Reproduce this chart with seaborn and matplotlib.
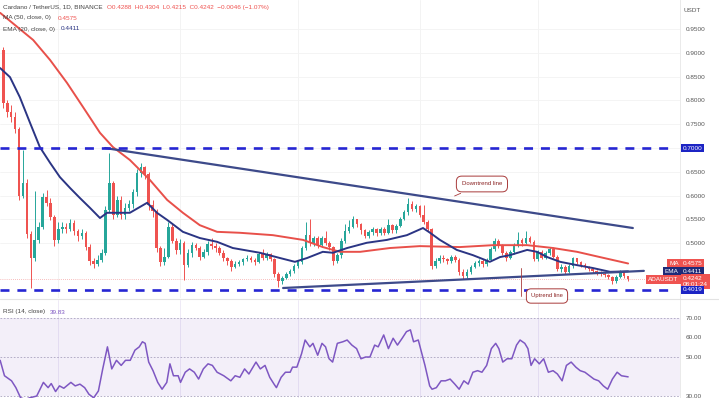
import numpy as np
import pandas as pd
import matplotlib
matplotlib.use("Agg")
from matplotlib import pyplot as plt
from matplotlib import transforms
from matplotlib.lines import Line2D
import seaborn as sns

# daily candles (open = previous close)
first_open = 0.905
closes = [0.795, 0.775, 0.765, 0.740, 0.600, 0.627, 0.520, 0.470, 0.507, 0.535,
          0.597, 0.585, 0.555, 0.507, 0.530, 0.535, 0.530, 0.542, 0.525, 0.515,
          0.522, 0.492, 0.462, 0.456, 0.465, 0.480, 0.570, 0.627, 0.560, 0.590,
          0.560, 0.575, 0.582, 0.608, 0.648, 0.660, 0.645, 0.580, 0.567, 0.490,
          0.460, 0.472, 0.535, 0.505, 0.485, 0.500, 0.455, 0.480, 0.497, 0.490,
          0.472, 0.482, 0.498, 0.494, 0.489, 0.480, 0.468, 0.462, 0.450, 0.457,
          0.460, 0.466, 0.470, 0.465, 0.460, 0.478, 0.470, 0.478, 0.466, 0.435,
          0.420, 0.428, 0.436, 0.442, 0.452, 0.460, 0.490, 0.518, 0.500, 0.510,
          0.496, 0.510, 0.500, 0.492, 0.462, 0.476, 0.505, 0.525, 0.535, 0.550,
          0.540, 0.527, 0.516, 0.524, 0.530, 0.521, 0.530, 0.522, 0.538, 0.527,
          0.537, 0.552, 0.565, 0.583, 0.572, 0.578, 0.560, 0.545, 0.530, 0.452,
          0.463, 0.470, 0.466, 0.462, 0.472, 0.465, 0.440, 0.432, 0.440, 0.450,
          0.458, 0.462, 0.456, 0.465, 0.488, 0.505, 0.495, 0.480, 0.468, 0.482,
          0.496, 0.506, 0.500, 0.510, 0.503, 0.466, 0.482, 0.470, 0.480, 0.488,
          0.472, 0.446, 0.451, 0.440, 0.452, 0.468, 0.460, 0.455, 0.450, 0.445,
          0.441, 0.438, 0.436, 0.433, 0.430, 0.420, 0.430, 0.440, 0.432, 0.4242]
highs = [0.912, 0.800, 0.790, 0.775, 0.745, 0.695, 0.635, 0.525, 0.610, 0.545,
         0.605, 0.612, 0.595, 0.560, 0.545, 0.545, 0.542, 0.550, 0.548, 0.530,
         0.530, 0.525, 0.498, 0.470, 0.475, 0.488, 0.578, 0.690, 0.630, 0.600,
         0.600, 0.585, 0.590, 0.615, 0.655, 0.668, 0.662, 0.650, 0.590, 0.572,
         0.495, 0.490, 0.545, 0.540, 0.510, 0.508, 0.505, 0.488, 0.502, 0.500,
         0.495, 0.488, 0.505, 0.510, 0.500, 0.494, 0.485, 0.472, 0.466, 0.462,
         0.465, 0.470, 0.475, 0.474, 0.468, 0.482, 0.488, 0.482, 0.480, 0.470,
         0.440, 0.432, 0.440, 0.446, 0.456, 0.464, 0.495, 0.545, 0.552, 0.515,
         0.515, 0.515, 0.525, 0.505, 0.495, 0.480, 0.510, 0.540, 0.548, 0.558,
         0.552, 0.542, 0.530, 0.528, 0.535, 0.533, 0.535, 0.534, 0.552, 0.540,
         0.541, 0.556, 0.570, 0.595, 0.588, 0.582, 0.580, 0.580, 0.548, 0.532,
         0.470, 0.475, 0.476, 0.470, 0.476, 0.476, 0.468, 0.445, 0.446, 0.455,
         0.462, 0.466, 0.466, 0.468, 0.492, 0.510, 0.508, 0.498, 0.484, 0.485,
         0.500, 0.523, 0.512, 0.525, 0.515, 0.506, 0.486, 0.486, 0.484, 0.492,
         0.492, 0.475, 0.456, 0.455, 0.456, 0.472, 0.470, 0.463, 0.458, 0.452,
         0.448, 0.444, 0.441, 0.439, 0.436, 0.432, 0.434, 0.444, 0.442, 0.4304]
lows = [0.785, 0.765, 0.755, 0.732, 0.590, 0.595, 0.510, 0.405, 0.462, 0.500,
        0.530, 0.578, 0.548, 0.495, 0.500, 0.522, 0.522, 0.525, 0.518, 0.505,
        0.508, 0.485, 0.455, 0.447, 0.452, 0.460, 0.475, 0.565, 0.552, 0.555,
        0.550, 0.552, 0.568, 0.575, 0.600, 0.640, 0.635, 0.570, 0.555, 0.482,
        0.452, 0.455, 0.468, 0.500, 0.478, 0.478, 0.423, 0.450, 0.472, 0.485,
        0.465, 0.468, 0.476, 0.488, 0.482, 0.475, 0.462, 0.455, 0.442, 0.448,
        0.452, 0.455, 0.462, 0.460, 0.455, 0.458, 0.465, 0.465, 0.462, 0.430,
        0.408, 0.415, 0.425, 0.432, 0.438, 0.448, 0.456, 0.486, 0.495, 0.495,
        0.490, 0.492, 0.496, 0.486, 0.455, 0.458, 0.470, 0.500, 0.522, 0.532,
        0.535, 0.520, 0.510, 0.512, 0.518, 0.516, 0.518, 0.518, 0.520, 0.522,
        0.522, 0.534, 0.548, 0.560, 0.568, 0.566, 0.556, 0.540, 0.525, 0.445,
        0.448, 0.458, 0.460, 0.456, 0.458, 0.460, 0.434, 0.425, 0.428, 0.436,
        0.448, 0.452, 0.450, 0.452, 0.462, 0.484, 0.490, 0.476, 0.462, 0.466,
        0.478, 0.492, 0.495, 0.498, 0.500, 0.462, 0.462, 0.466, 0.466, 0.476,
        0.468, 0.442, 0.440, 0.435, 0.437, 0.448, 0.456, 0.451, 0.446, 0.441,
        0.437, 0.434, 0.432, 0.429, 0.425, 0.415, 0.416, 0.426, 0.428, 0.4215]

# moving averages, sampled along the drawn curves (candle index, price)
ma_idx = [-0.8, 7.6, 11.9, 16.2, 20.3, 24.6, 27.9, 32.2, 37.3, 41.7, 45.7, 50.0, 54.4, 60.2,
          68.6, 76.3, 81.3, 85.7, 90.8, 98.4, 106.0, 116.2, 124.6, 133.3, 139.9, 146.0, 151.8, 159.0]
ma_val = [0.984, 0.927, 0.885, 0.837, 0.786, 0.732, 0.702, 0.675, 0.633, 0.591, 0.564, 0.538, 0.524, 0.522,
          0.517, 0.507, 0.492, 0.482, 0.482, 0.490, 0.494, 0.492, 0.496, 0.496, 0.490, 0.482, 0.471, 0.4575]
ema_idx = [-0.8, 1.7, 4.2, 6.8, 9.3, 11.9, 14.4, 17.0, 19.5, 22.1, 24.6, 26.4, 32.2, 36.6, 39.1, 41.7,
           45.7, 50.0, 54.4, 58.4, 65.3, 70.4, 74.2, 77.3, 81.3, 83.9, 87.5, 92.5, 97.6, 102.7, 106.8,
           108.6, 111.1, 115.4, 119.5, 123.8, 126.4, 128.9, 133.3, 135.8, 138.4, 141.7, 146.0, 150.0,
           154.4, 159.0]
ema_val = [0.868, 0.849, 0.807, 0.753, 0.702, 0.669, 0.639, 0.616, 0.595, 0.574, 0.553, 0.564, 0.564,
           0.585, 0.564, 0.549, 0.524, 0.511, 0.503, 0.490, 0.480, 0.469, 0.461, 0.469, 0.482, 0.480,
           0.490, 0.501, 0.507, 0.517, 0.532, 0.522, 0.507, 0.486, 0.475, 0.461, 0.471, 0.475, 0.486,
           0.482, 0.471, 0.461, 0.454, 0.448, 0.440, 0.4411]

rsi_idx = [-0.8, 0.3, 2.1, 3.2, 4.4, 5.6, 6.7, 8.5, 10.2, 11.4, 12.2, 13.3, 14.3, 15.4, 17.2, 18.3,
           19.5, 20.7, 21.8, 23.0, 24.2, 25.3, 26.5, 27.6, 28.8, 30.0, 31.1, 32.3, 33.5, 34.6, 35.4,
           36.1, 37.0, 38.1, 39.3, 40.4, 41.6, 42.4, 43.3, 44.5, 45.1, 46.3, 47.4, 48.6, 49.7, 50.9,
           52.1, 53.2, 54.4, 56.1, 57.9, 59.0, 60.2, 61.4, 62.5, 64.3, 65.4, 66.6, 67.8, 68.9, 69.5,
           70.7, 71.8, 73.0, 73.6, 74.7, 75.9, 76.8, 78.0, 78.8, 80.0, 81.1, 82.0, 82.9, 83.8, 85.0,
           86.4, 87.5, 88.7, 89.9, 91.0, 92.2, 93.3, 94.5, 95.4, 96.8, 98.0, 99.2, 100.3, 101.5, 102.6,
           103.6, 104.4, 105.6, 107.3, 108.5, 109.1, 110.2, 111.4, 112.5, 113.7, 114.9, 116.0, 117.2,
           118.3, 119.5, 120.7, 121.8, 123.0, 124.2, 125.3, 126.1, 127.1, 128.2, 129.4, 130.6, 131.5,
           132.7, 133.5, 134.3, 135.2, 136.4, 137.5, 138.7, 139.9, 141.0, 142.2, 143.3, 144.5, 145.7,
           146.8, 148.0, 149.2, 150.3, 151.5, 152.7, 153.8, 155.0, 156.2, 157.3, 159.0]
rsi_val = [48.3, 40.4, 37.8, 34.3, 29.1, 28.3, 29.1, 30.0, 37.0, 34.3, 36.4, 32.3, 35.2, 34.0, 37.0, 35.2,
           36.1, 34.3, 30.9, 29.1, 32.6, 43.9, 55.2, 43.9, 48.3, 45.7, 48.3, 48.3, 53.5, 55.2, 57.8,
           57.0, 47.4, 43.0, 37.0, 33.5, 37.0, 46.5, 40.4, 40.4, 37.0, 42.2, 43.9, 42.2, 38.7, 43.9,
           46.5, 45.7, 42.2, 40.4, 37.8, 40.4, 39.6, 43.9, 41.3, 47.4, 43.9, 45.7, 39.6, 36.1, 34.3,
           39.6, 42.2, 42.2, 44.8, 44.8, 51.7, 58.7, 55.2, 57.0, 50.9, 57.0, 55.2, 49.1, 47.4, 57.0,
           57.8, 58.7, 56.1, 54.3, 49.1, 50.0, 50.0, 56.1, 55.2, 61.3, 54.3, 59.6, 56.1, 59.6, 63.0,
           63.9, 57.8, 58.7, 45.7, 35.2, 33.5, 34.3, 37.8, 37.8, 38.7, 36.1, 33.5, 37.8,
           36.1, 42.2, 43.0, 42.2, 45.7, 54.3, 57.0, 54.3, 47.4, 49.1, 49.1, 56.1, 58.7,
           57.0, 54.3, 45.7, 49.1, 46.5, 49.1, 42.2, 43.0, 41.3, 37.8, 45.7, 47.4, 44.8,
           43.0, 42.2, 40.4, 38.7, 37.8, 35.2, 33.5, 38.7, 42.2, 40.4, 39.83]

down_idx = [25.9, 160.2]
down_val = [0.700, 0.532]
up_idx = [71.2, 163.0]
up_val = [0.406, 0.442]
resistance = 0.7000
support = 0.4019
last_price = 0.4242
ma_last = 0.4575
ema_last = 0.4411
price_ticks = [0.50, 0.55, 0.60, 0.65, 0.75, 0.80, 0.85, 0.90, 0.95]
rsi_ticks = [30, 50, 60, 70]
grid_idx = [14, 45, 75, 106, 136]

GREEN = "#26a69a"
RED = "#ef5350"
NAVY = "#2b3584"
BLUE = "#2626d2"
TREND = "#3d4a8a"
W, H = 719, 398

sns.set_style("white")
plt.rcParams['font.family'] = ['Liberation Sans', 'DejaVu Sans']

fig = plt.figure(figsize=(W / 100, H / 100), dpi=100)
ax = fig.add_axes([0, 100 / H, 680 / W, 298 / H])
ax2 = fig.add_axes([0, 0, 680 / W, 98 / H])

df = pd.DataFrame({"close": closes, "high": highs, "low": lows})
df["open"] = df["close"].shift(1).fillna(first_open)
df["idx"] = np.arange(len(df))
df["up"] = df["close"] >= df["open"]
colors = np.where(df["up"], GREEN, RED)
body_lo = df[["open", "close"]].min(axis=1)
body_h = (df["close"] - df["open"]).abs().clip(lower=0.0015)

for g in grid_idx:
    ax.axvline(g, color="#f1f1f1", lw=0.6, zorder=0)
    ax2.axvline(g, color="#ebe6f5", lw=0.6, zorder=0)
for t in price_ticks + [resistance]:
    ax.axhline(t, color="#f3f3f3", lw=0.6, zorder=0)

ax.axhline(last_price, color="#f08080", lw=0.5, ls=(0, (1, 2)), zorder=1)
ax.vlines(df["idx"], df["low"], df["high"], colors=colors, lw=0.7, zorder=2)
ax.bar(df["idx"], body_h, bottom=body_lo, width=0.66, color=colors, lw=0, zorder=3)

sns.lineplot(x=ma_idx, y=ma_val, ax=ax, color="#e8504a", lw=1.4, estimator=None, sort=False, zorder=4)
sns.lineplot(x=ema_idx, y=ema_val, ax=ax, color=NAVY, lw=1.4, estimator=None, sort=False, zorder=4)
sns.lineplot(x=down_idx, y=down_val, ax=ax, color=TREND, lw=1.6, estimator=None, sort=False, zorder=5)
sns.lineplot(x=up_idx, y=up_val, ax=ax, color=TREND, lw=1.6, estimator=None, sort=False, zorder=5)

for lvl in (resistance, support):
    ax.axhline(lvl, xmax=0.993, color=BLUE, lw=1.9, ls=(0, (3.4, 3.0)), zorder=5)

ax.set_xlim(-0.84, 172.2)
ax.set_ylim(0.385, 1.011)
ax.set_yticks(price_ticks)
ax.set_yticklabels([f"{t:.4f}" for t in price_ticks])
ax.yaxis.tick_right()
ax.tick_params(axis="y", length=0, pad=4, labelsize=4.6, labelcolor="#555555")
ax.set_xticks([])
ax.set_xlabel("")
ax.set_ylabel("")
for s in ax.spines.values():
    s.set_visible(False)
ax.spines["right"].set_visible(True)
ax.spines["right"].set_color("#e6e6e6")
ax.spines["right"].set_linewidth(0.6)

# callouts
ax.annotate("Downtrend line", xy=(114.2, 0.597), xytext=(121.8, 0.6245), fontsize=4.3,
            color="#8b2323", ha="center", va="center", zorder=6,
            bbox=dict(boxstyle="round,pad=0.9", fc="white", ec="#a83a3a", lw=0.7),
            arrowprops=dict(arrowstyle="-", color="#a83a3a", lw=0.6))

# price scale labels
trans = transforms.blended_transform_factory(ax.transAxes, ax.transData)
lab = dict(transform=trans, fontsize=4.6, color="white", va="center", clip_on=False, zorder=7)
ax.text(1.004, resistance, "0.7000", ha="left",
        bbox=dict(boxstyle="square,pad=0.3", fc="#1c24c4", ec="none"), **lab)
ax.text(1.004, ma_last, f"{ma_last:.4f}", ha="left",
        bbox=dict(boxstyle="square,pad=0.3", fc=RED, ec="none"), **lab)
ax.text(0.998, ma_last, "MA", ha="right",
        bbox=dict(boxstyle="square,pad=0.3", fc=RED, ec="none"), **lab)
ax.text(1.004, ema_last, f"{ema_last:.4f}", ha="left",
        bbox=dict(boxstyle="square,pad=0.3", fc="#1f2a78", ec="none"), **lab)
ax.text(0.998, ema_last, "EMA", ha="right",
        bbox=dict(boxstyle="square,pad=0.3", fc="#1f2a78", ec="none"), **lab)
ax.text(0.998, last_price, "ADAUSDT", ha="right",
        bbox=dict(boxstyle="square,pad=0.3", fc=RED, ec="none"), **lab)
ax.text(1.004, last_price - 0.0045, f"{last_price:.4f}\n08:01:24", ha="left", linespacing=1.1,
        bbox=dict(boxstyle="square,pad=0.3", fc=RED, ec="none"), **lab)
ax.text(1.004, support, f"{support:.4f}", ha="left",
        bbox=dict(boxstyle="square,pad=0.3", fc="#1c24c4", ec="none"), **lab)

# RSI pane
ax2.axhspan(30, 70, color="#7e57c2", alpha=0.09, lw=0, zorder=0)
for lvl in (30, 50, 70):
    ax2.axhline(lvl, color="#a9a2bf", lw=0.6, ls=(0, (2, 2)), zorder=1)
sns.lineplot(x=rsi_idx, y=rsi_val, ax=ax2, color="#7e57c2", lw=1.1, estimator=None, sort=False, zorder=3)
ax2.set_xlim(-0.84, 172.2)
ax2.set_ylim(29.0, 79.2)
ax2.set_yticks(rsi_ticks)
ax2.set_yticklabels([f"{t:.2f}" for t in rsi_ticks])
ax2.yaxis.tick_right()
ax2.tick_params(axis="y", length=0, pad=4, labelsize=4.6, labelcolor="#555555")
ax2.set_xticks([])
ax2.set_xlabel("")
ax2.set_ylabel("")
for s in ax2.spines.values():
    s.set_visible(False)
ax2.spines["right"].set_visible(True)
ax2.spines["right"].set_color("#e6e6e6")
ax2.spines["right"].set_linewidth(0.6)
fig.add_artist(Line2D([0, 1], [1 - 299 / H, 1 - 299 / H], color="#e3e3e3", lw=0.8))


def fx(x, y):
    return x / W, 1 - y / H


# uptrend callout crossing the pane border
fig.add_artist(Line2D([521 / W, 521 / W], [1 - 268 / H, 1 - 296 / H], color="#a83a3a", lw=0.6, zorder=8))
fig.text(*fx(547, 296), "Uptrend line", fontsize=4.2, color="#8b2323", ha="center", va="center", zorder=9,
         bbox=dict(boxstyle="round,pad=0.8", fc="white", ec="#a83a3a", lw=0.7))

# header legend
hdr = dict(fontsize=4.6, va="center")
fig.text(*fx(3, 7), "Cardano / TetherUS, 1D, BINANCE", color="#444444", **hdr)
fig.text(*fx(107, 7), "O0.4288  H0.4304  L0.4215  C0.4242  \u22120.0046 (\u22121.07%)", color=RED, **hdr)
fig.text(*fx(3, 18), "MA (50, close, 0)", color="#444444", **hdr)
fig.text(*fx(58, 18), "0.4575", color=RED, **hdr)
fig.text(*fx(3, 29), "EMA (20, close, 0)", color="#444444", **hdr)
fig.text(*fx(61, 29), "0.4411", color=NAVY, **hdr)
fig.text(*fx(684, 10), "USDT", color="#555555", **hdr)
fig.text(*fx(3, 312), "RSI (14, close)", color="#444444", **hdr)
fig.text(*fx(50, 312), "39.83", color="#7e57c2", **hdr)

fig.savefig("out.png", dpi=100)
